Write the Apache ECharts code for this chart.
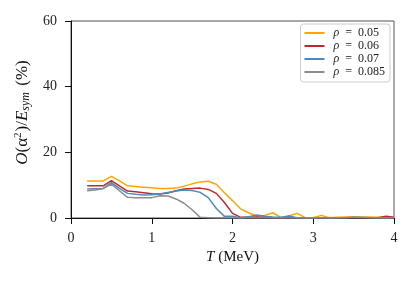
<!DOCTYPE html>
<html>
<head>
<meta charset="utf-8">
<script src="https://cdn.jsdelivr.net/npm/echarts@6/dist/echarts.min.js"></script>
<style>html,body{margin:0;padding:0;background:#fff}#c{width:415px;height:286px}</style>
</head>
<body>
<div id="c"></div>
<script>
const T = [0.2,0.3,0.4,0.5,0.6,0.7,0.8,0.9,1.0,1.1,1.2,1.3,1.4,1.5,1.6,1.7,1.8,1.9,2.0,2.1,2.2,2.3,2.4,2.5,2.6,2.7,2.8,2.9,3.0,3.1,3.2,3.3,3.4,3.5,3.6,3.7,3.8,3.9,4.0];
const rho005 = [11.3,11.3,11.3,12.7,11.3,9.8,9.6,9.4,9.2,9.0,9.0,9.1,9.7,10.4,11.0,11.2,10.3,7.7,5.3,2.8,1.6,0.6,0.8,1.6,0.1,0.6,1.4,0.1,0.1,0.8,0.1,0.2,0.3,0.4,0.3,0.3,0.2,0.1,0.2];
const rho006 = [9.8,9.8,9.8,11.4,9.8,8.2,8.0,7.7,7.4,7.3,7.6,8.3,8.8,9.0,9.1,8.7,7.5,4.7,1.4,0.2,0.3,0.3,0.2,0.1,0.1,0.1,0.1,0.1,0.1,0.1,0.1,0.1,0.1,0.1,0.1,0.1,0.1,0.5,0.2];
const rho007 = [8.8,8.9,9.0,10.8,9.0,7.5,7.2,7.0,7.1,7.3,7.8,8.2,8.5,8.4,7.8,6.2,2.9,0.5,0.5,0.0,0.4,0.9,0.5,0.3,0.2,0.6,0.1,0.1,0.1,0.1,0.1,0.1,0.1,0.1,0.1,0.1,0.1,0.1,0.1];
const rho0085 = [8.3,8.5,9.0,10.3,8.3,6.3,6.2,6.2,6.2,6.8,6.7,5.8,4.5,2.5,0.2,0.1,0.0,0.0,0.0,0.0,0.0,0.0,0.0,0.0,0.0,0.0,0.0,0.0,0.0,0.0,0.0,0.0,0.1,0.3,0.2,0.1,0.0,0.0,0.0];
const seriesNames = ['ρ = 0.05','ρ = 0.06','ρ = 0.07','ρ = 0.085'];
const seriesData = [rho005, rho006, rho007, rho0085];
const colors = ['#ffa500','#c0282d','#4a8cc2','#8c8c8c'];
const xTicks = [0,1,2,3,4];
const yTicks = [0,20,40,60];

const FONT = 'Liberation Serif';
const chart = echarts.init(document.getElementById('c'), null, {renderer:'canvas'});
chart.setOption({
  animation:false,
  grid:{left:71,right:21,top:21,bottom:68,show:true,borderColor:'#555',borderWidth:1,backgroundColor:'transparent'},
  legend:{
    orient:'vertical', right:25, top:24,
    data:seriesNames,
    icon:'rect', itemWidth:20, itemHeight:2, itemGap:1,
    borderColor:'#ccc', borderWidth:1, borderRadius:3,
    padding:[3,5,4,4],
    backgroundColor:'#fff',
    formatter:function(n){return '{i|ρ}{e|=}' + n.slice(4);},
    textStyle:{fontFamily:FONT,fontSize:12,lineHeight:12,color:'#222',
      rich:{i:{fontFamily:FONT,fontStyle:'italic',fontSize:12,lineHeight:12,color:'#222',padding:[0,0,0,4]},
            e:{fontFamily:FONT,fontSize:12,lineHeight:12,color:'#222',padding:[0,6,0,6]}}}
  },
  xAxis:{
    type:'value', min:xTicks[0], max:xTicks[xTicks.length-1], interval:1,
    name:'{i|T} (MeV)', nameLocation:'middle', nameGap:31,
    nameTextStyle:{fontFamily:FONT,fontSize:15,color:'#111',rich:{i:{fontFamily:FONT,fontStyle:'italic',fontSize:15,color:'#111'}}},
    axisLine:{lineStyle:{color:'#111',width:1}},
    axisTick:{length:6,lineStyle:{color:'#111'}},
    axisLabel:{fontFamily:FONT,fontSize:14,color:'#222',margin:13},
    splitLine:{show:false}
  },
  yAxis:{
    type:'value', min:yTicks[0], max:yTicks[yTicks.length-1], interval:20,
    name:'{i|O}(α{sup|2})/{i|E}{sub|sym} (%)', nameLocation:'middle', nameGap:37, nameRotate:90,
    nameTextStyle:{fontFamily:FONT,fontSize:17,color:'#111',padding:[0,0,0,14],
      rich:{i:{fontFamily:FONT,fontStyle:'italic',fontSize:17,color:'#111'},
            sup:{fontFamily:FONT,fontSize:11,verticalAlign:'top',padding:[0,1,7,0],color:'#111'},
            sub:{fontFamily:FONT,fontStyle:'italic',fontSize:12,padding:[7,2,0,0],color:'#111'}}},
    axisLine:{show:true,lineStyle:{color:'#111',width:1}},
    axisTick:{show:true,length:6,lineStyle:{color:'#111'}},
    axisLabel:{fontFamily:FONT,fontSize:14,color:'#222',margin:14},
    splitLine:{show:false}
  },
  series: seriesNames.map((n,i)=>({
    name:n, type:'line', showSymbol:false, symbol:'none',
    data: T.map((t,j)=>[t, seriesData[i][j]]),
    lineStyle:{color:colors[i],width:1.5}, itemStyle:{color:colors[i]}
  }))
});
</script>
</body>
</html>
